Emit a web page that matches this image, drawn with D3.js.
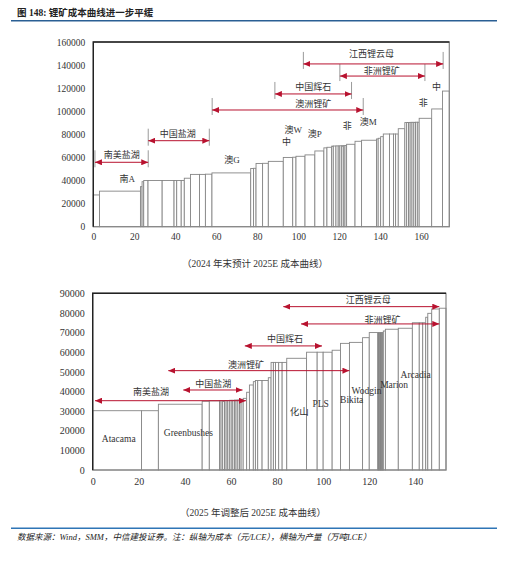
<!DOCTYPE html>
<html>
<head>
<meta charset="utf-8">
<title>锂矿成本曲线</title>
<style>
body { margin: 0; background: #fff; }
svg { display: block; }
.cn { font-family: "Noto Sans CJK SC", sans-serif; fill: #333; }
.lab { font-family: "Liberation Serif", "Noto Sans CJK SC", serif; fill: #333; }
</style>
<script src="https://d3js.org/d3.v7.min.js"></script>
</head>
<body>
<svg id="chart" width="517" height="567"></svg>
<script>

// ---- top panel: 2024 年末预计 2025E 成本曲线 ----
// width of each bar = output (万吨LCE), height = cost (元/LCE)
var topWidths = [3.0, 20.0, 0.8, 0.8, 2.1, 6.9, 5.8, 1.3, 2.2, 1.5,
  3.0, 4.4, 2.9, 3.2, 18.9, 1.4, 1.2, 3.2, 2.8, 7.3,
  4.6, 1.6, 4.4, 4.8, 4.4, 1.5, 2.3, 0.8, 1.3, 1.1,
  0.8, 0.9, 0.8, 0.8, 0.8, 4.1, 3.2, 7.3, 0.8, 1.2,
  1.3, 3.0, 2.0, 1.0, 1.3, 3.2, 0.9, 0.9, 0.8, 0.9,
  0.9, 0.8, 0.9, 0.9, 6.1, 5.3, 3.3];
var topCosts = [27500, 30800, 34700, 39000, 40000, 40000, 40000, 40000, 40000, 40000,
  42000, 45300, 45300, 45500, 46600, 50400, 50600, 54800, 54900, 56600,
  60000, 60200, 61000, 62200, 65600, 68300, 68800, 69800, 69900, 70000,
  70000, 70100, 70200, 70200, 70300, 71400, 74000, 74900, 76000, 76600,
  78000, 80300, 80300, 80300, 80300, 84900, 90200, 90300, 90300, 90400,
  90400, 90400, 90500, 90500, 93900, 102000, 117500];
var topXTicks = [0, 20, 40, 60, 80, 100, 120, 140, 160];
var topYTicks = [0, 20000, 40000, 60000, 80000, 100000, 120000, 140000, 160000];

var topGroups = ["南美盐湖", "中国盐湖", "澳洲锂矿", "中国辉石", "江西锂云母", "非洲锂矿"];
var topGroupFrom = [0.8, 26.8, 58.0, 88.6, 102.5, 120.3];
var topGroupTo = [26.8, 56.6, 131.7, 126.0, 170.7, 161.8];
var topGroupCost = [55800, 74500, 101100, 115000, 141000, 130500];
var topGroupLabelX = [13.9, 41.2, 107.3, 107.3, 135.8, 140.7];
var topGroupLabelCost = [62700, 80900, 106900, 121300, 149600, 135100];

var topMines = ["南A", "澳G", "澳W", "中", "澳P", "非", "澳M", "非", "中"];
var topMineX = [16.6, 67.7, 97.6, 94.3, 108.1, 123.9, 134.1, 161.0, 167.5];
var topMineCost = [41100, 58400, 83800, 73600, 80900, 87200, 91000, 107400, 121300];

// ---- bottom panel: 2025 年调整后 2025E 成本曲线 ----
var botWidths = [21.2, 7.3, 19.0, 3.1, 4.4,
  0.7, 0.7, 0.8, 0.7, 0.7, 0.7, 0.8, 0.7, 0.7, 0.7, 0.8, 0.7, 0.7, 0.9,
  1.5, 1.2, 1.7, 0.9, 1.0, 1.9, 2.7, 1.2,
  1.0, 0.9, 1.4, 1.5, 2.0, 8.6,
  4.6, 2.6, 3.9, 3.6, 3.9, 5.7, 2.9, 3.7,
  0.3, 0.3, 0.3, 0.3, 0.3, 0.3, 0.3, 0.3,
  0.9, 5.6, 6.1, 3.0, 1.5, 1.3, 0.9, 1.7, 3.3, 2.9];
var botCosts = [30200, 30200, 33500, 35000, 35200,
  35300, 35300, 35300, 35400, 35400, 35400, 35500, 35500, 35500, 35600, 35600, 35700, 35700, 35800,
  36500, 39600, 43300, 45000, 45600, 45600, 45600, 47000,
  54800, 54800, 54800, 54800, 54800, 56900,
  60000, 60000, 60000, 61000, 64500, 65000, 67400, 70000,
  70000, 70000, 70000, 70000, 70000, 70000, 70000, 70000,
  70800, 71700, 72200, 75000, 75000, 75000, 77800, 79800, 82000, 82400];
var botXTicks = [0, 20, 40, 60, 80, 100, 120, 140];
var botYTicks = [0, 10000, 20000, 30000, 40000, 50000, 60000, 70000, 80000, 90000];

var botGroups = ["南美盐湖", "中国盐湖", "澳洲锂矿", "中国辉石", "江西锂云母", "非洲锂矿"];
var botGroupFrom = [1.0, 39.3, 32.8, 66.0, 82.7, 90.4];
var botGroupTo = [66.5, 65.0, 111.4, 99.5, 150.4, 150.4];
var botGroupCost = [35300, 40750, 50600, 63200, 83200, 74400];
var botGroupLabelX = [25.3, 52.3, 66.5, 83.4, 119.6, 125.8];
var botGroupLabelCost = [39600, 43800, 53800, 67100, 86600, 76400];

var botMines = ["Atacama", "Greenbushes", "化山", "PLS", "Bikita", "Wodgin", "Marion", "Arcadia"];
var botMineX = [11.3, 41.5, 89.6, 98.9, 112.4, 118.8, 130.8, 140.1];
var botMineCost = [15800, 19200, 30000, 34000, 35700, 40500, 43300, 48800];

var red = "#b8122f";
var svg = d3.select("#chart");

// arrow head
svg.append("defs").append("marker")
    .attr("id", "ah")
    .attr("viewBox", "0 0 7 6")
    .attr("refX", 7).attr("refY", 3)
    .attr("markerWidth", 7).attr("markerHeight", 6)
    .attr("markerUnits", "userSpaceOnUse")
    .attr("orient", "auto-start-reverse")
  .append("path")
    .attr("d", "M0,0L7,3L0,6Z")
    .attr("fill", red);

// title + rules
svg.append("text")
    .attr("x", 17).attr("y", 16)
    .attr("font-family", "Liberation Serif, Noto Sans CJK SC, serif")
    .attr("font-weight", "bold")
    .attr("font-size", 9.5)
    .attr("fill", "#222")
    .text("图 148: 锂矿成本曲线进一步平缓");
svg.append("line").attr("x1", 11).attr("x2", 497).attr("y1", 20.7).attr("y2", 20.7)
    .attr("stroke", "#2a5f94").attr("stroke-width", 1.5);
svg.append("line").attr("x1", 11).attr("x2", 497).attr("y1", 528.3).attr("y2", 528.3)
    .attr("stroke", "#2e75b6").attr("stroke-width", 1.5);
svg.append("text")
    .attr("x", 17).attr("y", 540.3)
    .attr("font-family", "Liberation Serif, Noto Sans CJK SC, serif")
    .attr("font-style", "italic")
    .attr("font-size", 8.5)
    .attr("fill", "#222")
    .text("数据来源：Wind，SMM，中信建投证券。注：纵轴为成本（元/LCE），横轴为产量（万吨LCE）");

function drawPanel(p) {
  var x = d3.scaleLinear().domain([0, p.xMax]).range([p.left, p.right]);
  var y = d3.scaleLinear().domain([0, p.yMax]).range([p.bottom, p.top]);
  var g = svg.append("g");

  var starts = [], acc = 0;
  p.widths.forEach(function(w) { starts.push(acc); acc += w; });

  // cost bars
  g.selectAll("rect.bar")
    .data(p.costs)
    .join("rect")
      .attr("class", "bar")
      .attr("x", function(d, i) { return x(starts[i]); })
      .attr("y", function(d) { return y(d); })
      .attr("width", function(d, i) { return x(starts[i] + p.widths[i]) - x(starts[i]); })
      .attr("height", function(d) { return y(0) - y(d); })
      .attr("fill", "#fff")
      .attr("stroke", "#868686")
      .attr("stroke-width", 0.9);

  // plot frame
  g.append("rect")
      .attr("x", p.left).attr("y", p.top)
      .attr("width", p.right - p.left).attr("height", p.bottom - p.top)
      .attr("fill", "none").attr("stroke", "#888").attr("stroke-width", 1.2);
  g.append("path")
      .attr("d", "M" + p.left + "," + p.bottom + "V" + p.top + "H" + p.right)
      .attr("fill", "none").attr("stroke", "#222").attr("stroke-width", 1.4);

  // axes
  g.append("g")
      .attr("transform", "translate(" + p.left + ",0)")
      .call(d3.axisLeft(y).tickValues(p.yTicks).tickSize(0).tickPadding(8).tickFormat(d3.format("d")))
      .call(function(a) { a.select(".domain").remove(); })
      .attr("font-family", "Liberation Serif, serif")
      .attr("font-size", p.tickSize)
      .selectAll("text").attr("fill", "#333");
  g.append("g")
      .attr("transform", "translate(0," + p.bottom + ")")
      .call(d3.axisBottom(x).tickValues(p.xTicks).tickSize(0).tickPadding(p.xPad))
      .call(function(a) { a.select(".domain").remove(); })
      .attr("font-family", "Liberation Serif, serif")
      .attr("font-size", p.tickSize)
      .selectAll("text").attr("fill", "#333");

  // group spans
  if (p.endTicks) {
    p.groups.forEach(function(name, i) {
      [p.gFrom[i], p.gTo[i]].forEach(function(v) {
        g.append("line")
            .attr("x1", x(v)).attr("x2", x(v))
            .attr("y1", y(p.gCost[i]) - 12).attr("y2", y(p.gCost[i]) + 5)
            .attr("stroke", "#9a9a9a").attr("stroke-width", 1);
      });
    });
  }
  g.selectAll("line.span")
    .data(p.groups)
    .join("line")
      .attr("class", "span")
      .attr("x1", function(d, i) { return x(p.gFrom[i]); })
      .attr("x2", function(d, i) { return x(p.gTo[i]); })
      .attr("y1", function(d, i) { return y(p.gCost[i]); })
      .attr("y2", function(d, i) { return y(p.gCost[i]); })
      .attr("stroke", red).attr("stroke-width", 1)
      .attr("marker-start", "url(#ah)")
      .attr("marker-end", "url(#ah)");
  g.selectAll("text.glab")
    .data(p.groups)
    .join("text")
      .attr("class", "glab cn")
      .attr("x", function(d, i) { return x(p.gLabX[i]); })
      .attr("y", function(d, i) { return y(p.gLabCost[i]); })
      .attr("dy", "0.36em")
      .attr("text-anchor", "middle")
      .attr("font-size", 9)
      .text(function(d) { return d; });

  // mine names
  g.selectAll("text.mine")
    .data(p.mines)
    .join("text")
      .attr("class", "mine lab")
      .attr("x", function(d, i) { return x(p.mineX[i]); })
      .attr("y", function(d, i) { return y(p.mineCost[i]); })
      .attr("dy", "0.36em")
      .attr("text-anchor", "middle")
      .attr("font-size", p.mineSize)
      .text(function(d) { return d; });

  // caption
  svg.append("text")
      .attr("class", "lab")
      .attr("x", p.capX).attr("y", p.capY)
      .attr("dy", "0.36em")
      .attr("text-anchor", "middle")
      .attr("font-size", 9.5)
      .attr("fill", "#222")
      .text(p.caption);
}

drawPanel({
  widths: topWidths, costs: topCosts, xMax: 173.7, yMax: 160000,
  left: 93.3, right: 449.3, top: 42, bottom: 226.7,
  xTicks: topXTicks, yTicks: topYTicks, tickSize: 9.5, xPad: 6.5,
  groups: topGroups, gFrom: topGroupFrom, gTo: topGroupTo, gCost: topGroupCost,
  gLabX: topGroupLabelX, gLabCost: topGroupLabelCost, endTicks: true,
  mines: topMines, mineX: topMineX, mineCost: topMineCost, mineSize: 9,
  caption: "（2024 年末预计 2025E 成本曲线）", capX: 255, capY: 264
});

drawPanel({
  widths: botWidths, costs: botCosts, xMax: 153.3, yMax: 90000,
  left: 92.7, right: 446, top: 293.3, bottom: 470,
  xTicks: botXTicks, yTicks: botYTicks, tickSize: 10, xPad: 7.5,
  groups: botGroups, gFrom: botGroupFrom, gTo: botGroupTo, gCost: botGroupCost,
  gLabX: botGroupLabelX, gLabCost: botGroupLabelCost, endTicks: false,
  mines: botMines, mineX: botMineX, mineCost: botMineCost, mineSize: 9.5,
  caption: "（2025 年调整后 2025E 成本曲线）", capX: 253, capY: 512.3
});

</script>
</body>
</html>
